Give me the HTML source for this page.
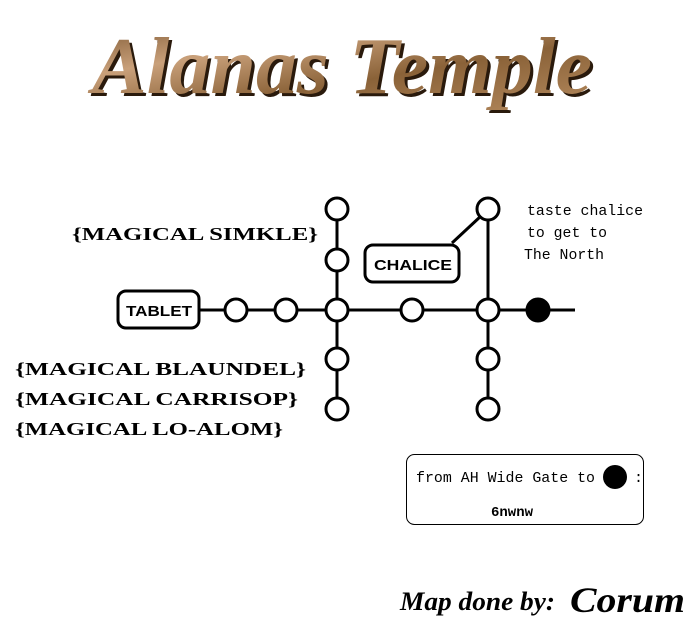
<!DOCTYPE html>
<html><head><meta charset="utf-8"><style>
html,body{margin:0;padding:0;background:#fff;}
body{width:691px;height:634px;overflow:hidden;}
</style></head><body>
<svg width="691" height="634" viewBox="0 0 691 634" xmlns="http://www.w3.org/2000/svg">
<rect width="691" height="634" fill="#fff"/>
<defs>
<linearGradient id="br" x1="0" y1="0" x2="1" y2="1">
<stop offset="0" stop-color="#7a5530"/><stop offset="0.3" stop-color="#c9a07a"/><stop offset="0.6" stop-color="#8a6238"/><stop offset="1" stop-color="#b58a5e"/>
</linearGradient>
</defs>
<text x="345" y="96" text-anchor="middle" font-family="Liberation Serif, serif" font-style="italic" font-weight="bold" font-size="80" fill="#2a1a0c" textLength="500" lengthAdjust="spacingAndGlyphs">Alanas Temple</text>
<text x="342" y="93" text-anchor="middle" font-family="Liberation Serif, serif" font-style="italic" font-weight="bold" font-size="80" fill="url(#br)" textLength="500" lengthAdjust="spacingAndGlyphs">Alanas Temple</text>

<g stroke="#000" stroke-width="3" fill="none">
<line x1="200" y1="310" x2="575" y2="310"/>
<line x1="337" y1="209" x2="337" y2="409"/>
<line x1="488" y1="209" x2="488" y2="409"/>
<line x1="452" y1="243" x2="481" y2="216"/>
<rect x="365" y="245" width="94" height="37" rx="8" fill="#fff"/>
<rect x="118" y="291" width="81" height="37" rx="8" fill="#fff"/>
</g>
<g stroke="#000" stroke-width="3" fill="#fff">
<circle cx="236" cy="310" r="11"/><circle cx="286" cy="310" r="11"/>
<circle cx="337" cy="209" r="11"/><circle cx="337" cy="260" r="11"/><circle cx="337" cy="310" r="11"/><circle cx="337" cy="359" r="11"/><circle cx="337" cy="409" r="11"/>
<circle cx="412" cy="310" r="11"/>
<circle cx="488" cy="209" r="11"/><circle cx="488" cy="310" r="11"/><circle cx="488" cy="359" r="11"/><circle cx="488" cy="409" r="11"/>
<circle cx="538" cy="310" r="11" fill="#000"/>
</g>
<g font-family="Liberation Sans, sans-serif" font-weight="bold" font-size="15" fill="#000">
<text x="159" y="316" text-anchor="middle" textLength="66" lengthAdjust="spacingAndGlyphs">TABLET</text>
<text x="413" y="270" text-anchor="middle" textLength="78" lengthAdjust="spacingAndGlyphs">CHALICE</text>
</g>
<g font-family="Liberation Serif, serif" font-weight="bold" font-size="18" fill="#000">
<text x="72" y="240" textLength="246" lengthAdjust="spacingAndGlyphs">{MAGICAL SIMKLE}</text>
<text x="15" y="375" textLength="291" lengthAdjust="spacingAndGlyphs">{MAGICAL BLAUNDEL}</text>
<text x="15" y="405" textLength="283" lengthAdjust="spacingAndGlyphs">{MAGICAL CARRISOP}</text>
<text x="15" y="435" textLength="268" lengthAdjust="spacingAndGlyphs">{MAGICAL LO-ALOM}</text>
</g>
<g font-family="Liberation Mono, monospace" font-size="15" fill="#000">
<text x="527" y="215" textLength="116" lengthAdjust="spacingAndGlyphs">taste chalice</text>
<text x="527" y="237" textLength="80" lengthAdjust="spacingAndGlyphs">to get to</text>
<text x="524" y="259" textLength="80" lengthAdjust="spacingAndGlyphs">The North</text>
</g>
<rect x="406.5" y="454.5" width="237" height="70" rx="8" fill="none" stroke="#000" stroke-width="1"/>
<text x="416" y="482" font-family="Liberation Mono, monospace" font-size="15" fill="#000" textLength="179" lengthAdjust="spacingAndGlyphs">from AH Wide Gate to</text>
<circle cx="615" cy="477" r="12" fill="#000"/>
<text x="634" y="482" font-family="Liberation Mono, monospace" font-size="15" fill="#000">:</text>
<text x="512" y="516" text-anchor="middle" font-family="Liberation Mono, monospace" font-weight="bold" font-size="14" fill="#000">6nwnw</text>
<text x="400" y="610" font-family="Liberation Serif, serif" font-style="italic" font-weight="bold" font-size="26" fill="#000" textLength="155" lengthAdjust="spacingAndGlyphs">Map done by:</text>
<text x="570" y="612" font-family="Liberation Serif, serif" font-style="italic" font-weight="bold" font-size="36" fill="#000" textLength="115" lengthAdjust="spacingAndGlyphs">Corum</text>
</svg>
</body></html>
